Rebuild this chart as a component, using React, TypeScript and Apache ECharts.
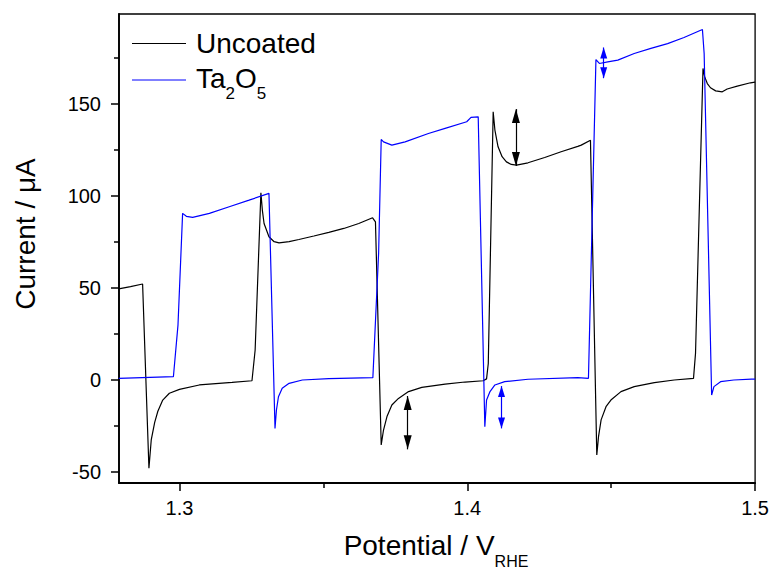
import React, { useEffect, useRef } from 'react';
import * as echarts from 'echarts';

const FONT = '"Liberation Sans", Arial, sans-serif';

// Uncoated (black) potential / current pairs
const uncoatedX = [
  1.2789, 1.283, 1.2872, 1.2894, 1.2902, 1.2914, 1.2925, 1.2942, 1.2965, 1.3, 1.3069, 1.3183, 1.3252,
  1.3263, 1.3283, 1.3288, 1.3294, 1.3311, 1.3329, 1.3346, 1.3381, 1.3415, 1.3467, 1.3519, 1.3571, 1.3623,
  1.3671, 1.3681, 1.3701, 1.3709, 1.3721, 1.3738, 1.3761, 1.3796, 1.3842, 1.3923, 1.3992, 1.4055, 1.4067,
  1.4073, 1.409, 1.4096, 1.4107, 1.4121, 1.4136, 1.4153, 1.4171, 1.4211, 1.4269, 1.4326, 1.4384, 1.4396,
  1.4428, 1.445, 1.4456, 1.4465, 1.4482, 1.4499, 1.4534, 1.458, 1.465, 1.4719, 1.4786, 1.4793, 1.4819,
  1.4825, 1.4834, 1.4845, 1.4863, 1.4886, 1.4903, 1.4938, 1.4984, 1.5,
];
const uncoatedY = [
  49.5, 50.8, 52.2, -48.0, -32.6, -23.0, -17.0, -10.9, -7.2, -5.1, -2.7, -1.3, -0.4,
  16.3, 101.8, 92.4, 85.1, 77.9, 75.2, 74.6, 75.2, 76.4, 78.3, 80.3, 82.4, 85.1,
  88.2, 86.0, -35.3, -27.2, -19.9, -13.6, -10.0, -6.3, -4.0, -2.2, -1.1, -0.4, 0.6,
  9.0, 145.8, 135.9, 126.8, 121.4, 118.6, 117.2, 116.8, 118.1, 121.0, 124.1, 127.0, 127.7,
  130.4, -40.8, -30.8, -21.7, -14.5, -10.9, -6.3, -3.6, -1.4, 0.0, 0.9, 14.5, 169.4,
  164.8, 161.2, 158.9, 157.2, 156.7, 158.2, 159.8, 161.6, 162.0,
];

// Ta2O5 (blue) potential / current pairs
const ta2o5X = [
  1.2789, 1.2979, 1.2995, 1.3011, 1.3024, 1.3046, 1.3104, 1.3173, 1.3242, 1.3311, 1.3332, 1.3337, 1.3344,
  1.3357, 1.3381, 1.3427, 1.3519, 1.3672, 1.3692, 1.3701, 1.3709, 1.3738, 1.3784, 1.3865, 1.3923, 1.3998,
  1.4013, 1.4038, 1.4061, 1.4067, 1.4079, 1.4096, 1.413, 1.4211, 1.4384, 1.4421, 1.4447, 1.4459, 1.4488,
  1.4523, 1.458, 1.4638, 1.4696, 1.4753, 1.4817, 1.4823, 1.4849, 1.4857, 1.488, 1.4926, 1.4987, 1.5,
];
const ta2o5Y = [
  0.9, 1.8, 30.0, 90.6, 89.0, 88.4, 90.6, 94.2, 97.8, 101.5, -26.3, -16.3, -9.1,
  -4.5, -1.8, 0.0, 0.7, 1.3, 69.0, 130.8, 129.5, 127.7, 129.5, 134.0, 136.8, 140.4,
  142.8, 143.1, -25.4, -10.9, -6.3, -2.7, -0.9, 0.4, 1.3, 0.9, 174.2, 172.1, 173.0,
  173.9, 177.5, 180.3, 182.9, 186.2, 190.6, 177.5, -8.2, -3.6, -0.9, 0.0, 0.5, 0.5,
];

// double-headed arrows
const uncoatedArrowX = [1.3793, 1.4169];
const uncoatedArrowY1 = [-8.7, 147.3];
const uncoatedArrowY2 = [-37.7, 116.4];
const ta2o5ArrowX = [1.4119, 1.4474];
const ta2o5ArrowY1 = [-3.3, 180.8];
const ta2o5ArrowY2 = [-26.3, 164.1];

const xTicks = [1.3, 1.4, 1.5];
const xMinorTicks = [1.35, 1.45];
const yTicks = [-50, 0, 50, 100, 150];
const yMinorTicks = [-25, 25, 75, 125, 175];

const X_MIN = 1.279;
const X_MAX = 1.5;
const Y_MIN = -56;
const Y_MAX = 199;

const zip = (xs: number[], ys: number[]) => xs.map((x, i) => [x, ys[i]]);
const arrows = (xs: number[], y1: number[], y2: number[]) =>
  xs.map((x, i) => [{ coord: [x, y1[i]] }, { coord: [x, y2[i]] }]);

export default function App() {
  const ref = useRef<HTMLDivElement>(null);
  useEffect(() => {
    if (!ref.current) return;
    const chart = echarts.init(ref.current, null, { renderer: 'svg' });
    const tickLine = { color: '#000', width: 1.5 };
    const baseX = {
      type: 'value',
      min: X_MIN,
      max: X_MAX,
      position: 'bottom',
      splitLine: { show: false },
    };
    const baseY = {
      type: 'value',
      min: Y_MIN,
      max: Y_MAX,
      position: 'left',
      splitLine: { show: false },
    };
    chart.setOption({
      animation: false,
      backgroundColor: '#fff',
      grid: {
        left: 119,
        right: 15,
        top: 14,
        bottom: 89,
        show: true,
        borderColor: '#000',
        borderWidth: 1.3,
        backgroundColor: 'transparent',
      },
      legend: { show: false },
      xAxis: [
        {
          ...baseX,
          axisLine: { show: true, onZero: false, lineStyle: { color: '#000', width: 1.8 } },
          axisTick: { show: true, inside: false, length: 8, customValues: xTicks, lineStyle: tickLine },
          axisLabel: {
            show: true,
            customValues: xTicks,
            formatter: (v: number) => v.toFixed(1),
            color: '#000',
            fontSize: 20,
            fontFamily: FONT,
            margin: 15,
          },
        },
        {
          ...baseX,
          axisLine: { show: false, onZero: false },
          axisTick: { show: true, inside: false, length: 5, customValues: xMinorTicks, lineStyle: tickLine },
          axisLabel: { show: false },
        },
      ],
      yAxis: [
        {
          ...baseY,
          axisLine: { show: true, onZero: false, lineStyle: { color: '#000', width: 1.8 } },
          axisTick: { show: true, inside: false, length: 8, customValues: yTicks, lineStyle: tickLine },
          axisLabel: {
            show: true,
            customValues: yTicks,
            color: '#000',
            fontSize: 20,
            fontFamily: FONT,
            margin: 18,
          },
        },
        {
          ...baseY,
          axisLine: { show: false, onZero: false },
          axisTick: { show: true, inside: false, length: 5, customValues: yMinorTicks, lineStyle: tickLine },
          axisLabel: { show: false },
        },
      ],
      series: [
        {
          name: 'Uncoated',
          type: 'line',
          xAxisIndex: 0,
          yAxisIndex: 0,
          symbol: 'none',
          showSymbol: false,
          lineStyle: { color: '#000', width: 1.2 },
          itemStyle: { color: '#000' },
          data: zip(uncoatedX, uncoatedY),
          markLine: {
            silent: true,
            symbol: ['triangle', 'triangle'],
            symbolSize: [8, 14],
            symbolOffset: [[0, 7], [0, 7]],
            label: { show: false },
            lineStyle: { color: '#000', width: 1.2, type: 'solid' },
            emphasis: { disabled: true },
            data: arrows(uncoatedArrowX, uncoatedArrowY1, uncoatedArrowY2),
          },
        },
        {
          name: 'Ta2O5',
          type: 'line',
          xAxisIndex: 0,
          yAxisIndex: 0,
          symbol: 'none',
          showSymbol: false,
          lineStyle: { color: '#0000ff', width: 1.2 },
          itemStyle: { color: '#0000ff' },
          data: zip(ta2o5X, ta2o5Y),
          markLine: {
            silent: true,
            symbol: ['triangle', 'triangle'],
            symbolSize: [7, 11],
            symbolOffset: [[0, 5.5], [0, 5.5]],
            label: { show: false },
            lineStyle: { color: '#0000ff', width: 1.2, type: 'solid' },
            emphasis: { disabled: true },
            data: arrows(ta2o5ArrowX, ta2o5ArrowY1, ta2o5ArrowY2),
          },
        },
      ],
      graphic: [
        // legend
        {
          type: 'line',
          shape: { x1: 132, y1: 43.5, x2: 186, y2: 43.5 },
          style: { stroke: '#000', lineWidth: 1 },
        },
        {
          type: 'text',
          x: 196,
          y: 43.6,
          style: {
            text: 'Uncoated',
            align: 'left',
            verticalAlign: 'middle',
            fill: '#000',
            fontSize: 28,
            fontFamily: FONT,
          },
        },
        {
          type: 'line',
          shape: { x1: 132, y1: 80, x2: 186, y2: 80 },
          style: { stroke: '#0000ff', lineWidth: 1 },
        },
        {
          type: 'text',
          x: 196,
          y: 78.8,
          style: {
            text: '{m|Ta}{s|2}{m|O}{s|5}',
            align: 'left',
            verticalAlign: 'middle',
            fill: '#000',
            rich: {
              m: { fontSize: 28, lineHeight: 46, fontFamily: FONT, fill: '#000' },
              s: { fontSize: 17, lineHeight: 17, fontFamily: FONT, fill: '#000', verticalAlign: 'bottom' },
            },
          },
        },
        // axis titles
        {
          type: 'text',
          x: 436,
          y: 545,
          style: {
            text: '{a|Potential / V}{b|RHE}',
            align: 'center',
            verticalAlign: 'middle',
            fill: '#000',
            rich: {
              a: { fontSize: 28, lineHeight: 48, fontFamily: FONT, fill: '#000' },
              b: { fontSize: 16, lineHeight: 16, fontFamily: FONT, fill: '#000', verticalAlign: 'bottom' },
            },
          },
        },
        {
          type: 'text',
          x: 25,
          y: 234,
          rotation: Math.PI / 2,
          style: {
            text: 'Current / μA',
            align: 'center',
            verticalAlign: 'middle',
            fill: '#000',
            fontSize: 28,
            fontFamily: FONT,
          },
        },
      ],
    });
    return () => chart.dispose();
  }, []);
  return (
    <div
      ref={ref}
      style={{ position: 'fixed', left: 0, top: 0, width: 772, height: 572, background: '#fff' }}
    />
  );
}
